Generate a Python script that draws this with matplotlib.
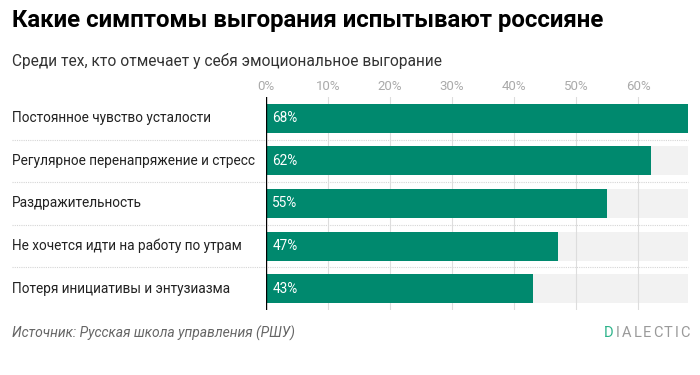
import matplotlib.pyplot as plt
import matplotlib.transforms as mtransforms
import numpy as np

categories = [
    "Постоянное чувство усталости",
    "Регулярное перенапряжение и стресс",
    "Раздражительность",
    "Не хочется идти на работу по утрам",
    "Потеря инициативы и энтузиазма",
]
values = [68, 62, 55, 47, 43]
ticks = [0, 10, 20, 30, 40, 50, 60]

plt.rcParams['font.family'] = ['Roboto', 'DejaVu Sans']

fig = plt.figure(figsize=(7, 3.75), dpi=100)
W, H = 700, 375
# axes from x=266 to 688 px, y=97 to 310 px
ax = fig.add_axes([266 / W, 1 - 310 / H, (688 - 266) / W, (310 - 97) / H])

green = '#00896e'
y = np.arange(len(categories))
vmax = max(values)
ax.barh(y, [vmax] * len(values), height=0.68, color='#f2f2f2', zorder=1)
ax.barh(y, values, height=0.68, color=green, zorder=3)
for t in ticks[1:]:
    ax.axvline(t, color='#dddddd', lw=0.8, zorder=2)

trans = mtransforms.blended_transform_factory(fig.transFigure, ax.transData)
for yy in y[:-1]:
    ax.plot([12 / W, 688 / W], [yy + 0.5, yy + 0.5], transform=trans, color='#d5d5d5',
            lw=0.8, ls=(0, (1, 1)), zorder=0, clip_on=False)
ax.axvline(0, color='black', lw=1, zorder=4)

for yy, v in zip(y, values):
    ax.text(1, yy, f"{v}%", color='white', fontsize=9.8, va='center', ha='left', zorder=5)

ax.set_xlim(0, vmax)
ax.set_ylim(len(categories) - 0.5, -0.5)
ax.xaxis.tick_top()
ax.set_xticks(ticks)
ax.set_xticklabels([f"{t}%" for t in ticks], color='#aaaaaa', fontsize=9.5)
ax.tick_params(axis='x', length=0, pad=3)
ax.set_yticks([])
for s in ax.spines.values():
    s.set_visible(False)

for yy, c in zip(y, categories):
    ax.text(12 / W, yy, c, transform=trans, fontsize=9.8, va='center', ha='left',
            color='#222222')

fig.text(12 / W, 1 - 21 / H, "Какие симптомы выгорания испытывают россияне",
         fontsize=17.3, fontweight='bold', va='center', ha='left', color='black')
fig.text(12 / W, 1 - 61 / H, "Среди тех, кто отмечает у себя эмоциональное выгорание",
         fontsize=11.2, va='center', ha='left', color='#333333')
fig.text(12 / W, 1 - 333 / H, "Источник: Русская школа управления (РШУ)",
         fontsize=10, style='italic', va='center', ha='left', color='#666666')

# logo, letter-spaced (rough glyph widths in px)
logo = "DIALECTIC"
glyph_w = {'D': 9, 'I': 3, 'A': 9, 'L': 7, 'E': 7, 'C': 8, 'T': 8}
xp = 604
for i, ch in enumerate(logo):
    fig.text(xp / W, 1 - 333 / H, ch, fontsize=10.5, va='center', ha='left',
             color='#2db38a' if i == 0 else '#9a9a9a')
    xp += glyph_w[ch] + 2.8

fig.savefig('out.png', dpi=100, facecolor='white')
